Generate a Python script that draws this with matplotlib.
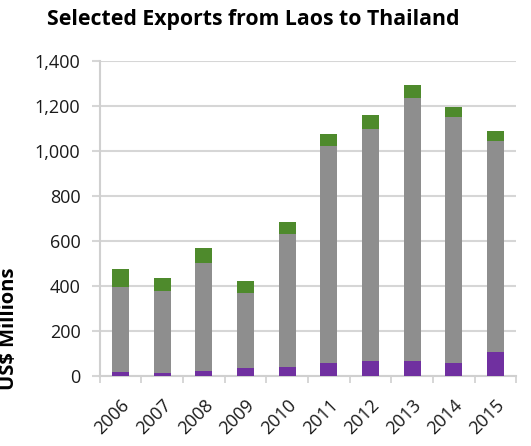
import matplotlib
matplotlib.use("Agg")
import matplotlib.pyplot as plt
import numpy as np

years = ["2006", "2007", "2008", "2009", "2010", "2011", "2012", "2013", "2014", "2015"]
purple_vals = [20, 13, 25, 35, 40, 58, 68, 68, 58, 106]
gray_vals = [375, 365, 476, 333, 591, 963, 1029, 1165, 1091, 939]
green_vals = [81, 59, 67, 56, 53, 53, 62, 57, 44, 44]
yticks = [0, 200, 400, 600, 800, 1000, 1200, 1400]

plt.rcParams['font.family'] = ['Open Sans', 'DejaVu Sans']

fig = plt.figure(figsize=(5.31, 4.46), dpi=100)
ax = fig.add_axes([0.188, 0.1563, 0.784, 0.7076])

x = np.arange(len(years))
w = 0.41
p = np.array(purple_vals)
g = np.array(gray_vals)
gr = np.array(green_vals)
ax.bar(x, p, w, color="#7030A0", zorder=3)
ax.bar(x, g, w, bottom=p, color="#8E8E8E", zorder=3)
ax.bar(x, gr, w, bottom=p + g, color="#4E8A2C", zorder=3)

ax.set_xlim(-0.5, len(years) - 0.5)
ax.set_ylim(0, 1400)
ax.set_yticks(yticks)
ax.set_yticklabels([f"{v:,}" for v in yticks], fontsize=13, color="#1a1a1a")
ax.yaxis.grid(True, color="#d6d6d6", linewidth=1.5, zorder=0)
ax.set_axisbelow(True)
ax.tick_params(axis='y', length=6, width=1.5, color="#d6d6d6", pad=8)

ax.set_xticks(x)
ax.set_xticklabels(years, rotation=45, ha='right', va='top', rotation_mode='anchor',
                   fontsize=13, color="#1a1a1a")
ax.set_xticks(np.arange(-0.5, len(years)), minor=True)
ax.tick_params(axis='x', which='major', length=0, pad=14)
ax.tick_params(axis='x', which='minor', length=5, width=1.2, color="#d0d0d0")

for s in ['top', 'right']:
    ax.spines[s].set_visible(False)
for s in ['left', 'bottom']:
    ax.spines[s].set_color("#d0d0d0")
    ax.spines[s].set_linewidth(1.5)

ax.set_ylabel("US$ Millions", fontsize=14.5, fontweight='bold')
ax.yaxis.set_label_coords(-0.193, 0.15)

fig.text(0.477, 0.957, "Selected Exports from Laos to Thailand", ha='center', va='center',
         fontsize=15.3, fontweight='bold')

fig.savefig("out.png", dpi=100)
